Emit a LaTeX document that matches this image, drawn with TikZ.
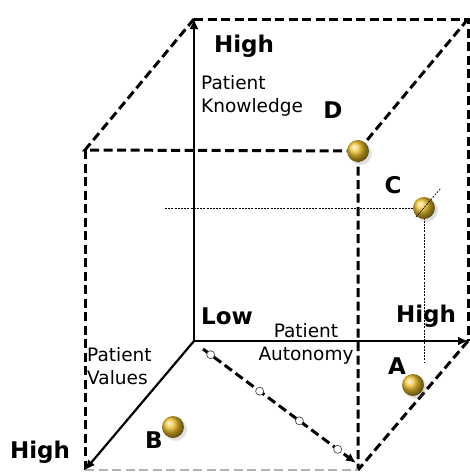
\documentclass[tikz,border=0pt]{standalone}
\usepackage{fontspec}
\setmainfont{DejaVu Sans}
\usetikzlibrary{arrows.meta,calc,shadows}

\definecolor{gold}{RGB}{238,192,44}

\begin{document}
\begin{tikzpicture}[
                  x = 1pt,
                  y = -1pt,
         axis/.style = {draw, line width=2.2pt, -{Latex[length=10pt,width=9pt]}},
         edge/.style = {draw, line width=3pt, dash pattern=on 9pt off 4.5pt},
        guide/.style = {draw, line width=0.7pt, dash pattern=on 2pt off 1.2pt},
         tick/.style = {circle, draw=black!70, fill=white, line width=0.7pt,
                        inner sep=0pt, minimum size=8pt},
        pearl/.style = {circle, inner sep=0pt, minimum size=22pt,
                        shading=ball, ball color=gold,
                        circular drop shadow={shadow xshift=2pt, shadow yshift=-2pt, opacity=0.25}},
          big/.style = {font=\fontsize{23}{25}\selectfont\bfseries, inner sep=0pt},
        small/.style = {font=\fontsize{18.5}{23}\selectfont, align=left, inner sep=0pt},
                     ]
\useasboundingbox (0,0) rectangle (470,472);

% corners of the cube
\coordinate (lo) at (194,341);
\coordinate (kh) at (194,19);
\coordinate (ah) at (468,341);
\coordinate (vh) at (85,470);
\coordinate (tb) at (468,19);
\coordinate (tf) at (85,150);
\coordinate (df) at (358,151);
\coordinate (bf) at (358,470);

% dashed box
\draw[edge] (kh) -- (tb) -- (ah);
\draw[edge] (tb) -- (df);
\draw[edge] (kh) -- (tf) -- (df) -- (bf);
\draw[edge] (tf) -- (vh);
\draw[edge] (ah) -- (bf);
\draw[edge, black!30, line width=1.5pt] (vh) -- (bf);

% the three axes
\draw[axis] (lo) -- (kh);
\draw[axis] (lo) -- (ah);
\draw[axis] (lo) -- (vh);

% path across the floor
\coordinate (d0) at (203,349);
\coordinate (d1) at (356,463);
\draw[edge, -{Latex[length=10pt,width=9pt]}] (d0) -- (d1);
\foreach \p [count=\i] in {0.05,0.37,0.63,0.88}
    \node[tick] (t\i) at ($(d0)!\p!(d1)$) {};

% guides to C
\coordinate (c) at (424,208);
\coordinate (cw) at (165,208);
\coordinate (cs) at (424,363);
\coordinate (c1) at (416,217);
\coordinate (c2) at (441,188);
\draw[guide] (cw) -- (c);
\draw[guide] (c) -- (cs);

% points
\node[pearl] (pd) at (df) {};
\node[pearl] (pc) at (c) {};
\node[pearl] (pa) at (413,385) {};
\node[pearl] (pb) at (173,427) {};
\draw[guide] (c1) -- (c2);

% labels
\node[big, anchor=base] (khigh) at (244,52) {High};
\node[small, anchor=north west] (know) at (201,75) {Patient\\Knowledge};
\node[big] (ld) at (333,110) {D};
\node[big] (lc) at (393,185) {C};
\node[big] (low) at (227,316) {Low};
\node[big, anchor=base] (ahigh) at (426,322) {High};
\node[small, anchor=base] (aut1) at (306,337) {Patient};
\node[small, anchor=base] (aut2) at (306,360) {Autonomy};
\node[small, anchor=north west] (val) at (87,347) {Patient\\Values};
\node[big] (la) at (397,366) {A};
\node[big] (lb) at (154,440) {B};
\node[big, anchor=base] (vhigh) at (40,458) {High};
\end{tikzpicture}
\end{document}
